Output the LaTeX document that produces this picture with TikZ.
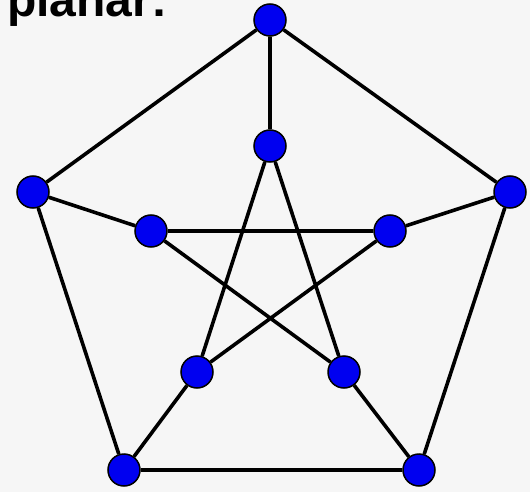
\documentclass[tikz,border=0pt]{standalone}
\usepackage{fontspec}
\setmainfont{Liberation Sans}
\definecolor{bgc}{HTML}{F6F6F6}
\definecolor{vblue}{HTML}{0000F0}
\begin{document}
\begin{tikzpicture}[x=1pt,y=-1pt,
  vert/.style={circle,fill=vblue,draw=black,line width=1.5pt,minimum size=32pt,inner sep=0pt},
  edge/.style={line width=3.6pt,black}]
\useasboundingbox (0,0) rectangle (530,492);
\clip (0,0) rectangle (530,492);
\fill[bgc] (0,0) rectangle (530,492);
\node[anchor=base west,inner sep=0pt,font=\fontsize{48}{48}\selectfont\bfseries] (title) at (7,17) {planar:};
\node[vert] (o1) at (270,20) {};
\node[vert] (o2) at (510,192) {};
\node[vert] (o3) at (419,470) {};
\node[vert] (o4) at (124,470) {};
\node[vert] (o5) at (33,192) {};
\node[vert] (i1) at (270,146) {};
\node[vert] (i2) at (390,231) {};
\node[vert] (i3) at (344,372) {};
\node[vert] (i4) at (197,372) {};
\node[vert] (i5) at (151,231) {};
\draw[edge] (o1) -- (o2) (o2) -- (o3) (o3) -- (o4) (o4) -- (o5) (o5) -- (o1);
\draw[edge] (o1) -- (i1) (o2) -- (i2) (o3) -- (i3) (o4) -- (i4) (o5) -- (i5);
\draw[edge] (i1) -- (i3) (i3) -- (i5) (i5) -- (i2) (i2) -- (i4) (i4) -- (i1);
\end{tikzpicture}
\end{document}
